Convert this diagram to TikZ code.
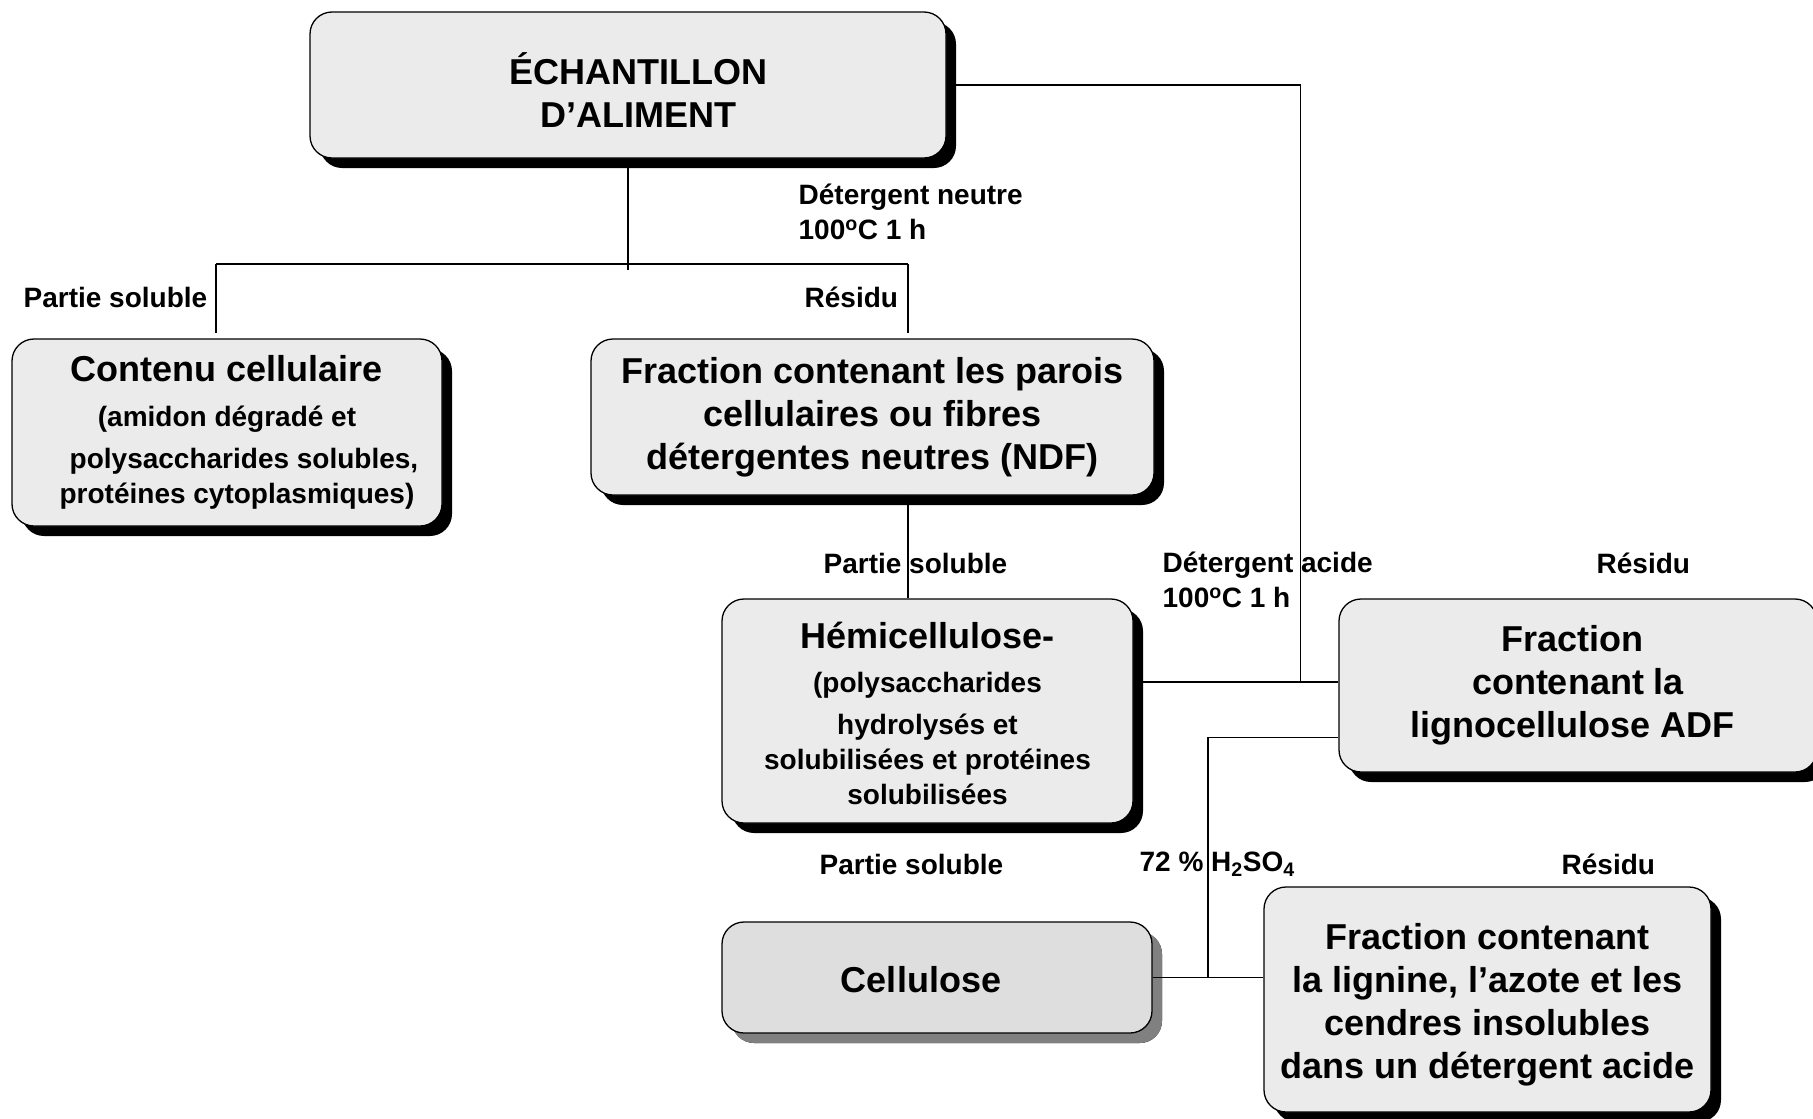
\documentclass[tikz,border=0pt]{standalone}
\usepackage{fontspec}
\setmainfont{Liberation Sans}
\usetikzlibrary{positioning,calc,shadows}

\newcommand{\headfont}{\fontsize{36}{43}\selectfont}
\newcommand{\notefont}{\fontsize{28}{35}\selectfont}

\begin{document}
\begin{tikzpicture}[x=1pt,y=-1pt,line width=1.3pt,
                    main box/.style={rectangle,rounded corners=22pt,draw,fill=black!8,
                      inner sep=0pt,align=center,font=\bfseries\headfont,
                      drop shadow={shadow xshift=10pt,shadow yshift=-10pt,fill=black,opacity=1}},
                    small box/.style={main box,font=\bfseries\notefont},
                    pale box/.style={main box,fill=black!13,
                      drop shadow={shadow xshift=10pt,shadow yshift=-10pt,fill=black!50,opacity=1}},
                    note/.style={inner sep=0pt,anchor=west,align=left,font=\bfseries\notefont}
                   ]
  \useasboundingbox (0,0) rectangle (1813,1119);

  % boxes
  \node[main box,minimum width=636pt,minimum height=146pt] (alim) at (628,85)
    {\rule{0pt}{41pt}\hspace*{21pt}ÉCHANTILLON\\ \hspace*{21pt}D’ALIMENT};
  \node[small box,minimum width=430pt,minimum height=187pt] (contenu) at (227,432.5)
    {{\headfont Contenu cellulaire}\\[10pt] (amidon dégradé et\hspace*{18pt}\\[7pt]
     \hspace*{34pt}polysaccharides solubles,\\ \hspace*{20pt}protéines cytoplasmiques)};
  \node[main box,minimum width=563pt,minimum height=156pt] (ndf) at (872.5,417)
    {Fraction contenant les parois\\ cellulaires ou fibres\\ détergentes neutres (NDF)};
  \node[small box,minimum width=411pt,minimum height=224pt] (hemi) at (927.5,711)
    {{\headfont\rule{0pt}{31pt}Hémicellulose-}\\[9pt] (polysaccharides\\[7pt] hydrolysés et\\
     solubilisées et protéines\\ solubilisées};
  \node[main box,minimum width=478pt,minimum height=173pt] (adf) at (1578,685.5)
    {Fraction\hspace*{11pt}\\ contenant la\hspace*{11pt}\\ lignocellulose ADF\hspace*{11pt}};
  \node[pale box,minimum width=430pt,minimum height=111pt] (cell) at (937,977.5)
    {\rule{0pt}{31pt}Cellulose\hspace*{32pt}};
  \node[main box,minimum width=447pt,minimum height=225pt] (lign) at (1487.5,999.5)
    {\rule{0pt}{36pt}Fraction contenant\\ la lignine, l’azote et les\\ cendres insolubles\\ dans un détergent acide};

  % labels
  \node[note] (detn) at (798,211.5) {Détergent neutre\\ 100\textsuperscript{o}C 1 h};
  \node[note] (ps1)  at (23,297)    {Partie soluble};
  \node[note] (res1) at (804,297)   {Résidu};
  \node[note] (ps2)  at (823,563)   {Partie soluble};
  \node[note] (deta) at (1162,580)  {Détergent acide\\ 100\textsuperscript{o}C 1 h};
  \node[note] (res2) at (1596,563)  {Résidu};
  \node[note] (ps3)  at (819,864)   {Partie soluble};
  \node[note] (acid) at (1139,864)  {72 \% H\textsubscript{2}SO\textsubscript{4}};
  \node[note] (res3) at (1561,864)  {Résidu};

  % connectors
  \coordinate (split) at (628,264);
  \coordinate (left)  at (216,264);
  \coordinate (right) at (908,264);
  \coordinate (acidin) at ([yshift=3.5pt]adf.west);
  \coordinate (h2so4) at (1208,977.5);

  \draw (alim.south) -- ([yshift=-6pt]split);
  \draw (left) -- (right);
  \draw[shorten >=5pt] (left) -- (left |- contenu.north);
  \draw[shorten >=5pt] (right) -- (right |- ndf.north);
  \draw (right |- ndf.south) -- (right |- hemi.north);
  \draw (alim.east) -| ([xshift=-38pt]acidin);
  \draw (hemi.east |- acidin) -- (acidin);
  \draw ([yshift=-52pt]adf.west) -| (h2so4);
  \draw (cell.east) -- (cell.east -| lign.west);
\end{tikzpicture}
\end{document}
